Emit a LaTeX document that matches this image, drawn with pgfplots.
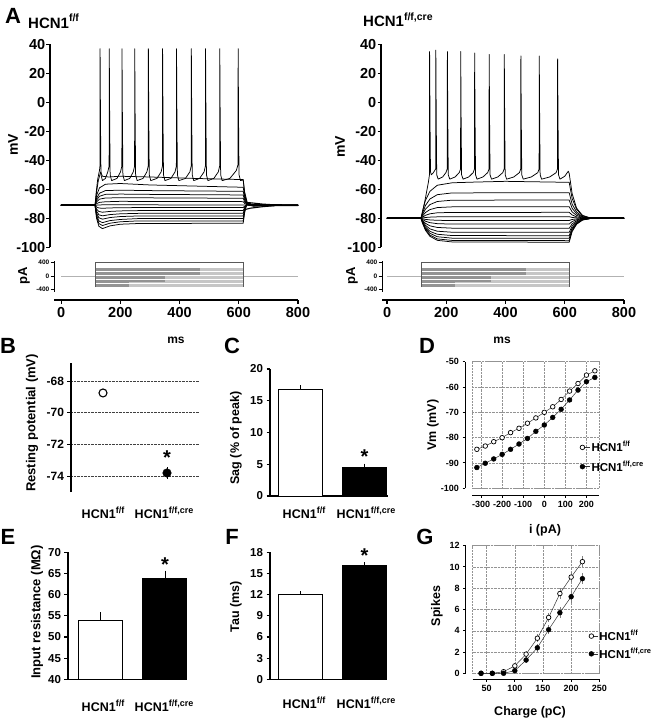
\documentclass[border=0pt]{standalone}
\usepackage{pgfplots}
\pgfplotsset{compat=1.18}
\usepackage{fontspec}
\setmainfont{Liberation Sans}
\newcommand{\f}[1]{\fontsize{#1}{#1}\selectfont\bfseries}
\newcommand{\hcn}[2]{HCN1\raisebox{0.42em}{\fontsize{#1}{#1}\selectfont\bfseries #2}}
\pgfplotsset{
  base/.style={scale only axis, axis line style={line width=1.1pt}, tick align=outside,
    major tick length=3.5pt, major tick style={line width=1.1pt, black},
    /pgf/number format/assume math mode=true, clip=false, anchor=south west},
  tr/.style={black, line width=0.75pt, line join=round},
  lt/.style={gray!45, line width=0.5pt},
  dk/.style={gray!85, line width=0.5pt},
}
\newcommand{\steps}{%
\addplot[gray!60, line width=0.6pt] coordinates {(0,0)(800,0)};
\addplot[lt] coordinates {(115,-320)(615,-320)};
\addplot[lt] coordinates {(115,-280)(615,-280)};
\addplot[lt] coordinates {(115,-240)(615,-240)};
\addplot[lt] coordinates {(115,-200)(615,-200)};
\addplot[lt] coordinates {(115,-160)(615,-160)};
\addplot[lt] coordinates {(115,-120)(615,-120)};
\addplot[lt] coordinates {(115,-80)(615,-80)};
\addplot[lt] coordinates {(115,-40)(615,-40)};
\addplot[lt] coordinates {(115,0)(615,0)};
\addplot[lt] coordinates {(115,40)(615,40)};
\addplot[lt] coordinates {(115,80)(615,80)};
\addplot[lt] coordinates {(115,120)(615,120)};
\addplot[lt] coordinates {(115,160)(615,160)};
\addplot[lt] coordinates {(115,200)(615,200)};
\addplot[lt] coordinates {(115,240)(615,240)};
\addplot[dk] coordinates {(115,-320)(230,-320)};
\addplot[dk] coordinates {(115,-280)(230,-280)};
\addplot[dk] coordinates {(115,-240)(230,-240)};
\addplot[dk] coordinates {(115,-200)(230,-200)};
\addplot[dk] coordinates {(115,-160)(350,-160)};
\addplot[dk] coordinates {(115,-120)(350,-120)};
\addplot[dk] coordinates {(115,-80)(350,-80)};
\addplot[dk] coordinates {(115,-40)(350,-40)};
\addplot[dk] coordinates {(115,0)(350,0)};
\addplot[dk] coordinates {(115,40)(470,40)};
\addplot[dk] coordinates {(115,80)(470,80)};
\addplot[dk] coordinates {(115,120)(470,120)};
\addplot[dk] coordinates {(115,160)(470,160)};
\addplot[dk] coordinates {(115,200)(470,200)};
\addplot[dk] coordinates {(115,240)(470,240)};
\addplot[gray!70!black, line width=0.5pt] coordinates {(115,-330)(115,400)(615,400)(615,-330)};
}
\begin{document}
\begin{tikzpicture}
\useasboundingbox (0,0) rectangle (660pt,-720pt);

% ---------------- A left: voltage
\begin{axis}[base, at={(50pt,-247.3pt)}, width=248pt, height=203pt,
  xmin=-37, xmax=800, ymin=-100, ymax=40, axis x line=none, axis y line*=left,
  ytick={-100,-80,...,40}, yticklabel style={font=\f{14.5}, inner sep=1pt}]
\addplot[tr] coordinates {(0,-71)(115,-71)(120,-72.2)(128,-72.9)(140,-73.1)(165,-72.85)(200,-72.7)(260,-72.6)(615,-72.6)(620,-71.6)(628,-70.8)(645,-70.9)(680,-71)(800,-71)};
\addplot[tr] coordinates {(0,-71)(115,-71)(120,-73.6)(128,-75.3)(140,-75.8)(165,-75.25)(200,-74.9)(260,-74.7)(615,-74.7)(620,-72.5)(628,-70.4)(645,-70.8)(680,-71)(800,-71)};
\addplot[tr] coordinates {(0,-71)(115,-71)(120,-75.0)(128,-77.6)(140,-78.3)(165,-77.45)(200,-76.9)(260,-76.6)(615,-76.6)(620,-73.2)(628,-70.2)(645,-70.7)(680,-71)(800,-71)};
\addplot[tr] coordinates {(0,-71)(115,-71)(120,-76.3)(128,-79.6)(140,-80.6)(165,-79.5)(200,-78.8)(260,-78.4)(615,-78.4)(620,-74.0)(628,-69.9)(645,-70.6)(680,-71)(800,-71)};
\addplot[tr] coordinates {(0,-71)(115,-71)(120,-77.6)(128,-81.8)(140,-83.0)(165,-81.6)(200,-80.8)(260,-80.2)(615,-80.2)(620,-74.7)(628,-69.6)(645,-70.5)(680,-71)(800,-71)};
\addplot[tr] coordinates {(0,-71)(115,-71)(120,-78.7)(128,-83.6)(140,-85.0)(165,-83.4)(200,-82.4)(260,-81.8)(615,-81.8)(620,-75.3)(628,-69.4)(645,-70.5)(680,-71)(800,-71)};
\addplot[tr] coordinates {(0,-71)(115,-71)(120,-79.9)(128,-85.5)(140,-87.1)(165,-85.25)(200,-84.1)(260,-83.6)(615,-83.4)(620,-76.0)(628,-69.1)(645,-70.4)(680,-71)(800,-71)};
\addplot[tr] coordinates {(0,-71)(115,-71)(140,-70.7)(615,-70.8)(620,-70.9)(800,-71)};
\addplot[tr] coordinates {(0,-71)(115,-71)(120,-69.9)(130,-69.0)(150,-68.6)(200,-68.3)(300,-68.4)(615,-68.5)(620,-69.75)(630,-70.9)(650,-71.1)(800,-71)};
\addplot[tr] coordinates {(0,-71)(115,-71)(120,-68.7)(130,-66.8)(150,-66.0)(200,-65.8)(300,-65.9)(615,-66.2)(620,-68.6)(630,-70.8)(650,-71.2)(800,-71)};
\addplot[tr] coordinates {(0,-71)(115,-71)(120,-67.5)(130,-64.8)(150,-63.5)(200,-63.3)(300,-63.5)(615,-63.9)(620,-67.5)(630,-70.6)(650,-71.3)(800,-71)};
\addplot[tr] coordinates {(0,-71)(115,-71)(120,-66.3)(130,-62.7)(150,-60.9)(200,-60.6)(300,-60.9)(615,-61.4)(620,-66.2)(630,-70.5)(650,-71.4)(800,-71)};
\addplot[tr] coordinates {(0,-71)(115,-71)(120,-64.3)(130,-59.0)(150,-56.5)(200,-56.0)(300,-57.0)(615,-58.6)(620,-64.8)(630,-70.4)(650,-71.5)(800,-71)};
\addplot[tr] coordinates {(0,-71)(115,-71)(120,-62)(126,-54)(134,-48)(140,-51)(160,-51.5)(200,-51)(300,-51.5)(450,-52.5)(615,-53.3)(620,-62)(630,-70)(650,-71.5)(680,-71)(800,-71)};
\addplot[tr] coordinates {(0,-71)(115,-71)(119,-62)(124,-53)(130,-47)(131.5,-44)(132,37)(133.5,-15)(135,-50)(140,-54)(150,-52.5)(158,-48)(162.5,-44)(163,37)(164.5,-15)(166,-50)(171,-54)(189,-52.5)(201,-48)(205.5,-44)(206,37)(207.5,-15)(209,-50)(214,-54)(232,-52.5)(244,-48)(248.5,-44)(249,37)(250.5,-15)(252,-50)(257,-54)(277,-52.5)(290,-48)(294.5,-44)(295,37)(296.5,-15)(298,-50)(303,-54)(324,-52.5)(338,-48)(342.5,-44)(343,37)(344.5,-15)(346,-50)(351,-54)(371,-52.5)(385,-48)(389.5,-44)(390,37)(391.5,-15)(393,-50)(398,-54)(420,-52.5)(435,-48)(439.5,-44)(440,37)(441.5,-15)(443,-50)(448,-54)(468,-52.5)(483,-48)(487.5,-44)(488,37)(489.5,-15)(491,-50)(496,-54)(516,-52.5)(531,-48)(535.5,-44)(536,37)(537.5,-15)(539,-50)(544,-54)(570,-52.5)(592,-47)(597.5,-43)(598,37)(599.5,-15)(601,-50)(606,-54)(615,-53.5)(620,-63)(628,-70)(645,-71.5)(680,-71)(800,-71)};
\addplot[black, line width=1.9pt] coordinates {(0,-71)(115,-71)};
\addplot[black, line width=1.9pt] coordinates {(650,-70.9)(800,-71)};
\addplot[black, line width=1.1pt] coordinates {(620,-69)(640,-69.3)(680,-70.2)(720,-70.7)};
\addplot[black, line width=1.1pt] coordinates {(620,-74)(640,-73)(680,-72)(720,-71.3)};
\end{axis}

% ---------------- A left: current
\begin{axis}[base, at={(54pt,-291.7pt)}, width=244pt, height=31pt,
  xmin=-24, xmax=800, ymin=-470, ymax=460, axis x line*=bottom, axis y line*=left,
  axis x line shift=8.3pt, xtick={0,200,...,800}, ytick={-400,0,400},
  yticklabel style={font=\f{6.5}, inner sep=1pt}, xticklabel style={font=\f{14.5}},
  y axis line style={line width=0.9pt}, ytick style={line width=0.8pt}]
\steps
\end{axis}

% ---------------- A right: voltage
\begin{axis}[base, at={(381pt,-247.3pt)}, width=243pt, height=203pt,
  xmin=-20, xmax=800, ymin=-100, ymax=40, axis x line=none, axis y line*=left,
  ytick={-100,-80,...,40}, yticklabel style={font=\f{14.5}, inner sep=1pt}]
\addplot[tr] coordinates {(0,-80)(115,-80)(120,-80.3)(130,-80.75)(145,-81.1)(170,-81.4)(220,-81.5)(615,-81.5)(625,-80.8)(640,-80.4)(660,-80.1)(690,-80)(800,-80)};
\addplot[tr] coordinates {(0,-80)(115,-80)(120,-80.8)(130,-82)(145,-83)(170,-83.7)(220,-84)(615,-84)(625,-82.2)(640,-81)(660,-80.3)(690,-80)(800,-80)};
\addplot[tr] coordinates {(0,-80)(115,-80)(120,-81.4)(130,-83.45)(145,-85.2)(170,-86.3)(220,-86.8)(615,-86.9)(625,-83.8)(640,-81.7)(660,-80.5)(690,-80)(800,-80)};
\addplot[tr] coordinates {(0,-80)(115,-80)(120,-81.9)(130,-84.85)(145,-87.3)(170,-88.9)(220,-89.6)(615,-89.7)(625,-85.3)(640,-82.4)(660,-80.7)(690,-80)(800,-80)};
\addplot[tr] coordinates {(0,-80)(115,-80)(120,-82.4)(130,-86)(145,-89)(170,-91)(220,-91.9)(615,-92)(625,-86.6)(640,-83)(660,-80.8)(690,-80)(800,-80)};
\addplot[tr] coordinates {(0,-80)(115,-80)(120,-82.8)(130,-86.9)(145,-90.35)(170,-92.7)(220,-93.7)(615,-93.8)(625,-87.6)(640,-83.45)(660,-81)(690,-80)(800,-80)};
\addplot[tr] coordinates {(0,-80)(115,-80)(120,-83.1)(130,-87.7)(145,-91.55)(170,-94.2)(220,-95.25)(615,-95.4)(625,-88.5)(640,-83.85)(660,-81.1)(690,-80)(800,-80)};
\addplot[tr] coordinates {(0,-80)(115,-80)(120,-83.3)(130,-88.25)(145,-92.4)(170,-95.2)(220,-96.3)(615,-96.5)(625,-89.1)(640,-84.1)(660,-81.2)(690,-80)(800,-80)};
\addplot[tr] coordinates {(0,-80)(115,-80)(120,-79.8)(130,-79.45)(145,-79.2)(170,-79.0)(220,-78.9)(615,-78.9)(625,-79.4)(640,-79.7)(660,-79.9)(690,-80)(800,-80)};
\addplot[tr] coordinates {(0,-80)(115,-80)(120,-79.2)(130,-77.95)(145,-76.9)(170,-76.2)(220,-75.95)(615,-75.9)(625,-77.7)(640,-79)(660,-79.7)(690,-80)(800,-80)};
\addplot[tr] coordinates {(0,-80)(115,-80)(120,-78.4)(130,-76)(145,-74)(170,-72.6)(220,-72.1)(615,-72)(625,-75.6)(640,-78)(660,-79.4)(690,-80)(800,-80)};
\addplot[tr] coordinates {(0,-80)(115,-80)(120,-77.5)(130,-73.7)(145,-70.55)(170,-68.4)(220,-67.5)(615,-67.4)(625,-73.1)(640,-76.85)(660,-79.1)(690,-80)(800,-80)};
\addplot[tr] coordinates {(0,-80)(115,-80)(120,-76.5)(130,-71.15)(145,-66.7)(170,-63.7)(220,-62.5)(615,-62.3)(625,-70.3)(640,-75.6)(660,-78.8)(690,-80)(800,-80)};
\addplot[tr] coordinates {(0,-80)(115,-80)(120,-75)(130,-67.6)(145,-61.4)(170,-57.2)(220,-55.5)(300,-55)(400,-54.5)(615,-55.2)(625,-66.4)(640,-73.8)(660,-78.3)(690,-80)(800,-80)};
\addplot[tr] coordinates {(0,-80)(115,-80)(120,-76)(130,-66)(140,-55)(143.5,-50)(144,35)(145.5,-15)(147,-48)(150,-50)(155,-49)(164.5,-46)(165,36)(166.5,-15)(168,-50)(173,-53)(188,-51.5)(199,-48.5)(203.5,-46)(204,35)(205.5,-15)(207,-50)(212,-53)(230,-51.5)(244,-48.5)(248.5,-46)(249,35)(250.5,-15)(252,-50)(257,-53)(276,-51.5)(291,-48.5)(295.5,-46)(296,34)(297.5,-15)(299,-50)(304,-53)(324,-51.5)(340,-48.5)(344.5,-46)(345,33)(346.5,-15)(348,-50)(353,-53)(374,-51.5)(391,-48.5)(395.5,-46)(396,33)(397.5,-15)(399,-50)(404,-53)(428,-51.5)(447,-48.5)(451.5,-46)(452,32)(453.5,-15)(455,-50)(460,-53)(487,-51.5)(509,-48.5)(513.5,-46)(514,32)(515.5,-15)(517,-50)(522,-53)(549,-51.5)(571,-48.5)(575.5,-46)(576,30)(577.5,-15)(579,-50)(584,-53)(600,-51)(612,-47.5)(615,-49)(625,-63)(640,-73)(660,-78)(690,-80)(800,-80)};
\addplot[black, line width=1.7pt] coordinates {(0,-80)(115,-80)};
\addplot[black, line width=1.7pt] coordinates {(680,-80)(800,-80)};
\end{axis}

% ---------------- A right: current
\begin{axis}[base, at={(382pt,-291.7pt)}, width=242pt, height=31pt,
  xmin=-17, xmax=800, ymin=-470, ymax=460, axis x line*=bottom, axis y line*=left,
  axis x line shift=8.3pt, xtick={0,200,...,800}, ytick={-400,0,400},
  yticklabel style={font=\f{6.5}, inner sep=1pt}, xticklabel style={font=\f{14.5}},
  y axis line style={line width=0.9pt}, ytick style={line width=0.8pt}]
\steps
\end{axis}

% ---------------- B
\begin{axis}[base, at={(71pt,-492pt)}, width=128pt, height=129pt,
  xmin=0.5, xmax=2.5, ymin=-75, ymax=-66.86, axis x line=none, axis y line*=left,
  ytick={-74,-72,-70,-68}, ymajorgrids, grid style={densely dotted, black!75, line width=0.6pt},
  yticklabel style={font=\f{12}}]
\addplot[only marks, mark=*, mark size=4pt, mark options={fill=white, draw=black, line width=1.1pt}] coordinates {(1,-68.75)};
\addplot[only marks, mark=*, mark size=4.3pt, black, error bars/.cd, y dir=both, y explicit, error mark=none, error bar style={line width=1pt}] coordinates {(2,-73.8) +- (0,0.38)};
\node[font=\f{20}] at (axis cs:2,-72.86) {*};
\end{axis}

% ---------------- C
\begin{axis}[base, at={(270pt,-496pt)}, width=118pt, height=127pt,
  xmin=0.512, xmax=2.37, ymin=0, ymax=20, axis x line*=bottom, axis y line*=left,
  xtick=\empty, ytick={0,5,...,20}, yticklabel style={font=\f{11.5}}]
\addplot[ybar, bar width=44pt, bar shift=0pt, fill=white, draw=black, line width=1pt,
  error bars/.cd, y dir=plus, y explicit, error mark=none, error bar style={line width=1pt}] coordinates {(1,16.8) +- (0,0.65)};
\addplot[ybar, bar width=44pt, bar shift=0pt, fill=black, draw=black, line width=1pt,
  error bars/.cd, y dir=plus, y explicit, error mark=none, error bar style={line width=1pt}] coordinates {(2,4.45) +- (0,0.65)};
\node[font=\f{20}] at (axis cs:2,6.2) {*};
\end{axis}

% ---------------- D
\begin{axis}[base, at={(472pt,-488.3pt)}, width=127.3pt, height=126.6pt,
  xmin=-343, xmax=261, ymin=-100, ymax=-50, axis x line*=bottom, axis y line*=left,
  axis x line shift=7pt, axis y line shift=7pt, axis line style={line width=1pt},
  major tick length=2.5pt, major tick style={line width=1pt},
  xtick={-300,-200,...,200}, ytick={-100,-90,...,-50}, grid=major,
  grid style={densely dotted, gray!85, line width=0.5pt}, tick label style={font=\f{9}},
  legend style={at={(axis description cs:0.846,0.247)}, anchor=west, draw=none, fill=none,
    font=\f{11.5}, inner sep=0pt, row sep=4.5pt, nodes={inner sep=1.5pt}},
  legend cell align=left,
  legend image code/.code={\path (0cm,0cm) -- (0.34cm,0cm); \draw[#1, only marks] plot coordinates {(0.08cm,0cm)};}]
\draw[densely dotted, gray!85, line width=0.5pt] (rel axis cs:0,0) rectangle (rel axis cs:1,1);
\addplot[black!80, line width=0.5pt, mark=*, mark size=2.3pt, mark options={fill=white, draw=black, line width=0.7pt}] coordinates {(-320,-84.6)(-280,-83.3)(-240,-81.6)(-200,-80.0)(-160,-78.0)(-120,-76.3)(-80,-74.3)(-40,-72.2)(0,-70.0)(40,-67.8)(80,-64.9)(120,-61.6)(160,-58.6)(200,-55.3)(240,-53.6)};
\addplot[black!80, line width=0.5pt, mark=*, mark size=2.4pt, mark options={fill=black, draw=black}] coordinates {(-320,-91.8)(-280,-90.1)(-240,-88.4)(-200,-86.6)(-160,-84.6)(-120,-82.5)(-80,-80.3)(-40,-77.5)(0,-75.0)(40,-72.0)(80,-68.8)(120,-65.1)(160,-61.2)(200,-57.9)(240,-56.2)};
\legend{{\hcn{7.5}{f/f}},{\hcn{7.5}{f/f,cre}}}
\end{axis}

% ---------------- E
\begin{axis}[base, at={(68pt,-679.3pt)}, width=119pt, height=127pt,
  xmin=0.496, xmax=2.341, ymin=40, ymax=70, axis x line*=bottom, axis y line*=left,
  xtick=\empty, ytick={40,45,...,70}, yticklabel style={font=\f{11.5}}]
\begin{scope}
\clip (rel axis cs:0,0) rectangle (rel axis cs:1,1.2);
\addplot[ybar, bar width=44.5pt, bar shift=0pt, fill=white, draw=black, line width=1pt,
  error bars/.cd, y dir=plus, y explicit, error mark=none, error bar style={line width=1pt}] coordinates {(1,53.8) +- (0,2.2)};
\addplot[ybar, bar width=44.5pt, bar shift=0pt, fill=black, draw=black, line width=1pt,
  error bars/.cd, y dir=plus, y explicit, error mark=none, error bar style={line width=1pt}] coordinates {(2,63.85) +- (0,1.8)};
\end{scope}
\node[font=\f{20}] at (axis cs:2,67.0) {*};
\end{axis}

% ---------------- F
\begin{axis}[base, at={(270pt,-679.3pt)}, width=117pt, height=127pt,
  xmin=0.512, xmax=2.355, ymin=0, ymax=18, axis x line*=bottom, axis y line*=left,
  xtick=\empty, ytick={0,3,...,18}, yticklabel style={font=\f{11.5}}]
\addplot[ybar, bar width=44pt, bar shift=0pt, fill=white, draw=black, line width=1pt,
  error bars/.cd, y dir=plus, y explicit, error mark=none, error bar style={line width=1pt}] coordinates {(1,11.95) +- (0,0.5)};
\addplot[ybar, bar width=44pt, bar shift=0pt, fill=black, draw=black, line width=1pt,
  error bars/.cd, y dir=plus, y explicit, error mark=none, error bar style={line width=1pt}] coordinates {(2,16.1) +- (0,0.5)};
\node[font=\f{20}] at (axis cs:2,17.6) {*};
\end{axis}

% ---------------- G
\begin{axis}[base, at={(472.6pt,-673.3pt)}, width=126.7pt, height=127.6pt,
  xmin=25, xmax=250, ymin=0, ymax=12, axis x line*=bottom, axis y line*=left,
  axis x line shift=6pt, axis y line shift=7pt, axis line style={line width=1pt},
  major tick length=2.5pt, major tick style={line width=1pt},
  xtick={50,100,...,250}, ytick={0,2,...,12}, grid=major,
  grid style={densely dotted, gray!85, line width=0.5pt}, tick label style={font=\f{9}},
  legend style={at={(axis description cs:0.916,0.222)}, anchor=west, draw=none, fill=none,
    font=\f{11.5}, inner sep=0pt, row sep=3pt, nodes={inner sep=1.5pt}},
  legend cell align=left,
  legend image code/.code={\path (0cm,0cm) -- (0.3cm,0cm); \draw[#1, only marks] plot coordinates {(0.08cm,0cm)};}]
\draw[densely dotted, gray!85, line width=0.5pt] (rel axis cs:0,0) rectangle (rel axis cs:1,1);
\addplot[black!80, line width=0.5pt, mark=*, mark size=2.3pt, mark options={fill=white, draw=black, line width=0.7pt},
  error bars/.cd, y dir=both, y explicit, error mark=none, error bar style={gray, line width=0.6pt}] coordinates {(40,0)+-(0,0)(60,0)+-(0,0)(80,0.15)+-(0,0.1)(100,0.7)+-(0,0.2)(120,1.8)+-(0,0.3)(140,3.3)+-(0,0.35)(160,5.25)+-(0,0.45)(180,7.5)+-(0,0.5)(200,9.05)+-(0,0.5)(220,10.5)+-(0,0.5)};
\addplot[black!80, line width=0.5pt, mark=*, mark size=2.4pt, mark options={fill=black, draw=black},
  error bars/.cd, y dir=both, y explicit, error mark=none, error bar style={gray, line width=0.6pt}] coordinates {(40,0)+-(0,0)(60,0)+-(0,0)(80,0)+-(0,0)(100,0.25)+-(0,0.15)(120,1.25)+-(0,0.25)(140,2.4)+-(0,0.35)(160,4.1)+-(0,0.45)(180,5.7)+-(0,0.5)(200,7.2)+-(0,0.55)(220,8.9)+-(0,0.5)};
\legend{{\hcn{7.5}{f/f}},{\hcn{7.5}{f/f,cre}}}
\end{axis}

% ---------------- text
\node[font=\f{22}] at (13pt,-16pt) {A};
\node[font=\f{15}, anchor=base west, inner sep=0pt] at (28pt,-28pt) {\hcn{10.5}{f/f}};
\node[font=\f{15}, anchor=base west, inner sep=0pt] at (363pt,-27pt) {\hcn{10.5}{f/f,cre}};
\node[font=\f{14}, rotate=90] at (13pt,-145pt) {mV};
\node[font=\f{14}, rotate=90] at (340pt,-147pt) {mV};
\node[font=\f{13}, rotate=90] at (24pt,-276pt) {pA};
\node[font=\f{13}, rotate=90] at (352pt,-276pt) {pA};
\node[font=\f{12}] at (176pt,-340pt) {ms};
\node[font=\f{12}] at (502pt,-340pt) {ms};

\node[font=\f{22}] at (8pt,-346pt) {B};
\node[font=\f{22}] at (232pt,-346pt) {C};
\node[font=\f{22}] at (427pt,-346pt) {D};
\node[font=\f{22}] at (8pt,-537pt) {E};
\node[font=\f{22}] at (232pt,-537pt) {F};
\node[font=\f{22}] at (425pt,-537pt) {G};

\node[font=\f{13}, rotate=90] at (32pt,-423pt) {Resting potential (mV)};
\node[font=\f{12.5}, rotate=90] at (236pt,-438pt) {Sag (\% of peak)};
\node[font=\f{12.5}, rotate=90] at (433pt,-425pt) {Vm (mV)};
\node[font=\f{13}, rotate=90] at (37pt,-612pt) {Input resistance (M\symbol{"03A9})};
\node[font=\f{12.5}, rotate=90] at (236pt,-607pt) {Tau (ms)};
\node[font=\f{12.5}, rotate=90] at (437pt,-606pt) {Spikes};
\node[font=\f{12.5}] at (545pt,-530pt) {i (pA)};
\node[font=\f{12.5}] at (530pt,-712pt) {Charge (pC)};

\node[font=\f{12.5}] at (103pt,-513pt) {\hcn{9}{f/f}};
\node[font=\f{12.5}] at (164pt,-513pt) {\hcn{9}{f/f,cre}};
\node[font=\f{12.5}] at (304pt,-513pt) {\hcn{9}{f/f}};
\node[font=\f{12.5}] at (366pt,-513pt) {\hcn{9}{f/f,cre}};
\node[font=\f{12.5}] at (103pt,-706pt) {\hcn{9}{f/f}};
\node[font=\f{12.5}] at (164pt,-706pt) {\hcn{9}{f/f,cre}};
\node[font=\f{12.5}] at (304pt,-703pt) {\hcn{9}{f/f}};
\node[font=\f{12.5}] at (366pt,-703pt) {\hcn{9}{f/f,cre}};
\end{tikzpicture}
\end{document}
